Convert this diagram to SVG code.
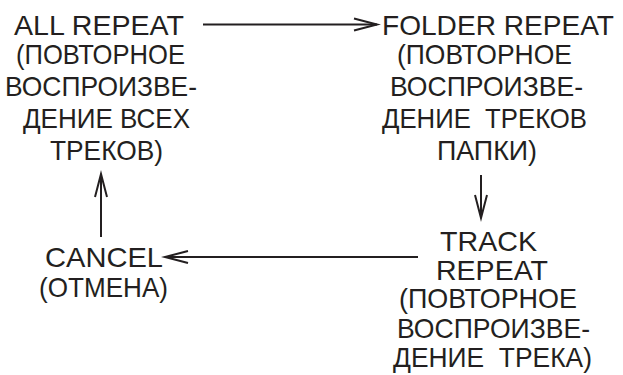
<svg xmlns="http://www.w3.org/2000/svg" width="623" height="375" viewBox="0 0 623 375">
<style>
text{font-family:"Liberation Sans",Arial,sans-serif;fill:#231f20}
.m{font-size:28.5px}
.s{font-size:27.5px}
.c{fill:none;stroke:#231f20;stroke-width:2}
</style>
<defs>
<marker id="ah" markerUnits="userSpaceOnUse" markerWidth="30" markerHeight="20" viewBox="-26 -10 30 20" refX="0" refY="0" orient="auto" overflow="visible">
<path d="M-23,-6 L0,0 L-23,6" fill="none" stroke="#231f20" stroke-width="2"/>
</marker>
</defs>
<rect width="623" height="375" fill="#fff"/>
<g id="all-repeat">
<text class="m" x="14" y="35" textLength="170" lengthAdjust="spacingAndGlyphs">ALL REPEAT</text>
<text class="s" x="16" y="64" textLength="169" lengthAdjust="spacingAndGlyphs">(ПОВТОРНОЕ</text>
<text class="s" x="5" y="96" textLength="192" lengthAdjust="spacingAndGlyphs">ВОСПРОИЗВЕ-</text>
<text class="s" x="23" y="128" textLength="167" lengthAdjust="spacingAndGlyphs">ДЕНИЕ ВСЕХ</text>
<text class="s" x="50" y="160" textLength="113" lengthAdjust="spacingAndGlyphs">ТРЕКОВ)</text>
</g>
<g id="folder-repeat">
<text class="m" x="382" y="35" textLength="232" lengthAdjust="spacingAndGlyphs">FOLDER REPEAT</text>
<text class="s" x="397" y="64" textLength="175" lengthAdjust="spacingAndGlyphs">(ПОВТОРНОЕ</text>
<text class="s" x="390" y="96" textLength="193" lengthAdjust="spacingAndGlyphs">ВОСПРОИЗВЕ-</text>
<text class="s" x="382" y="128" textLength="205" lengthAdjust="spacingAndGlyphs" xml:space="preserve">ДЕНИЕ  ТРЕКОВ</text>
<text class="s" x="437" y="160" textLength="100" lengthAdjust="spacingAndGlyphs">ПАПКИ)</text>
</g>
<g id="track-repeat">
<text class="m" x="440" y="251" textLength="97" lengthAdjust="spacingAndGlyphs">TRACK</text>
<text class="m" x="436" y="280" textLength="112" lengthAdjust="spacingAndGlyphs">REPEAT</text>
<text class="s" x="399" y="308" textLength="178" lengthAdjust="spacingAndGlyphs">(ПОВТОРНОЕ</text>
<text class="s" x="397" y="338" textLength="193" lengthAdjust="spacingAndGlyphs">ВОСПРОИЗВЕ-</text>
<text class="s" x="393" y="367" textLength="199" lengthAdjust="spacingAndGlyphs" xml:space="preserve">ДЕНИЕ  ТРЕКА)</text>
</g>
<g id="cancel">
<text class="m" x="45" y="267" textLength="118" lengthAdjust="spacingAndGlyphs">CANCEL</text>
<text class="s" x="39" y="297" textLength="129" lengthAdjust="spacingAndGlyphs">(ОТМЕНА)</text>
</g>
<g id="connectors">
<line class="c" x1="203" y1="24.5" x2="377" y2="24.5" marker-end="url(#ah)"/>
<line class="c" x1="481" y1="175" x2="481" y2="218" marker-end="url(#ah)"/>
<line class="c" x1="418" y1="257" x2="165" y2="257" marker-end="url(#ah)"/>
<line class="c" x1="101" y1="237" x2="101" y2="174" marker-end="url(#ah)"/>
</g>
</svg>
